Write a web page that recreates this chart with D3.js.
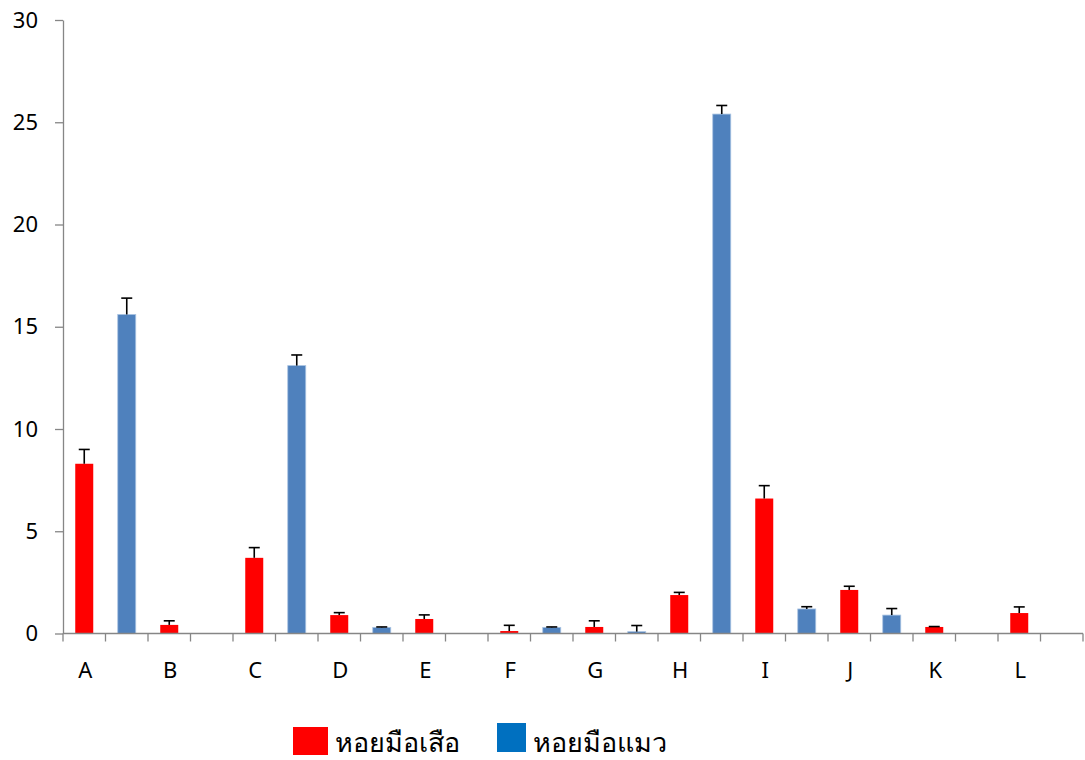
<!DOCTYPE html>
<html><head><meta charset="utf-8">
<script src="https://cdn.jsdelivr.net/npm/d3@7"></script>
<style>body{margin:0;background:#fff}svg{display:block}</style>
</head><body>
<svg id="c" width="1085" height="760"></svg>
<script>
const categories = ["A","B","C","D","E","F","G","H","I","J","K","L"];
const seriesNames = ["หอยมือเสือ","หอยมือแมว"];
const tigerValues = [8.3,0.42,3.7,0.9,0.71,0.12,0.32,1.88,6.6,2.13,0.32,1.0];
const tigerErrors = [0.7,0.2,0.5,0.12,0.2,0.28,0.3,0.13,0.63,0.18,0.02,0.3];
const catValues  = [15.6,0,13.1,0.3,0,0.3,0.09,25.4,1.2,0.9,0,0];
const catErrors  = [0.8,0,0.52,0.02,0,0.02,0.3,0.42,0.11,0.32,0,0];
const yTicks = [0,5,10,15,20,25,30];

(function(){
const svg = d3.select("#c");
const pLeft = 63, pRight = 1083, pTop = 20, pBottom = 633.5;
const slots = [];
categories.forEach((c,i)=>{ slots.push({cat:c, s:0, i}); slots.push({cat:c, s:1, i}); });
const x = d3.scaleBand().domain(d3.range(slots.length)).range([pLeft,pRight]).paddingInner(0).paddingOuter(0);
const y = d3.scaleLinear().domain([0,30]).range([pBottom,pTop]);
const barW = 18;
const fills = ["#FF0000","#4F81BD"];
const strokes = ["none","#A9C3E2"];
const legendColors = ["#FF0000","#0070C0"];
const font = "'Noto Sans', 'DejaVu Sans', sans-serif";

const data = slots.map((d,k)=>({
  k, s:d.s,
  v: d.s===0 ? tigerValues[d.i] : catValues[d.i],
  e: d.s===0 ? tigerErrors[d.i] : catErrors[d.i]
}));
svg.append("g").selectAll("rect").data(data).join("rect")
  .attr("x", d=>x(d.k)+x.bandwidth()/2-barW/2)
  .attr("width", barW)
  .attr("y", d=>y(d.v))
  .attr("height", d=>Math.max(0,y(0)-y(d.v)))
  .attr("fill", d=>fills[d.s])
  .attr("stroke", d=>d.v===0 ? "#D9D9D9" : strokes[d.s])
  .attr("stroke-width", 0.8);

const eg = svg.append("g").attr("stroke","#000").attr("stroke-width",1.6);
data.filter(d=>d.e>0).forEach(d=>{
  const cx = x(d.k)+x.bandwidth()/2;
  eg.append("line").attr("x1",cx).attr("x2",cx).attr("y1",y(d.v)).attr("y2",y(d.v+d.e));
  eg.append("line").attr("x1",cx-5.5).attr("x2",cx+5.5).attr("y1",y(d.v+d.e)).attr("y2",y(d.v+d.e));
});

const yAxis = d3.axisLeft(y).tickValues(yTicks).tickSize(8).tickPadding(17).tickSizeOuter(0);
const gy = svg.append("g").attr("transform",`translate(${pLeft},0)`).call(yAxis);
gy.select(".domain").attr("stroke","#868686").attr("stroke-width",1.3);
gy.selectAll(".tick line").attr("stroke","#868686").attr("stroke-width",1.3);
gy.selectAll("text").attr("font-family",font).attr("font-size",22).attr("fill","#000");

const boundaries = d3.range(slots.length+1).map(k=> k<slots.length ? x(k) : pRight);
const gx = svg.append("g");
gx.append("line").attr("x1",pLeft).attr("x2",pRight).attr("y1",pBottom).attr("y2",pBottom)
  .attr("stroke","#868686").attr("stroke-width",1.3);
gx.selectAll("line.t").data(boundaries).join("line").attr("class","t")
  .attr("x1",d=>d).attr("x2",d=>d).attr("y1",pBottom).attr("y2",pBottom+8)
  .attr("stroke","#868686").attr("stroke-width",1.3);
gx.selectAll("text").data(categories).join("text")
  .attr("x",(c,i)=>x(2*i)+x.bandwidth()/2+1)
  .attr("y",678)
  .attr("text-anchor","middle")
  .attr("font-family",font).attr("font-size",22).attr("fill","#000")
  .text(d=>d);

const lg = svg.append("g");
const legendX = [293, 497];
const legendSq = [[35,28,727],[29,29,723]];
seriesNames.forEach((n,i)=>{
  lg.append("rect").attr("x",legendX[i]).attr("y",legendSq[i][2]).attr("width",legendSq[i][0]).attr("height",legendSq[i][1]).attr("fill",legendColors[i]);
  lg.append("text").attr("x",legendX[i]+legendSq[i][0]+7).attr("y",752)
    .attr("font-family",font).attr("font-size",27).attr("font-weight",300).attr("fill","#000").text(n);
});
})();
</script>
</body></html>
